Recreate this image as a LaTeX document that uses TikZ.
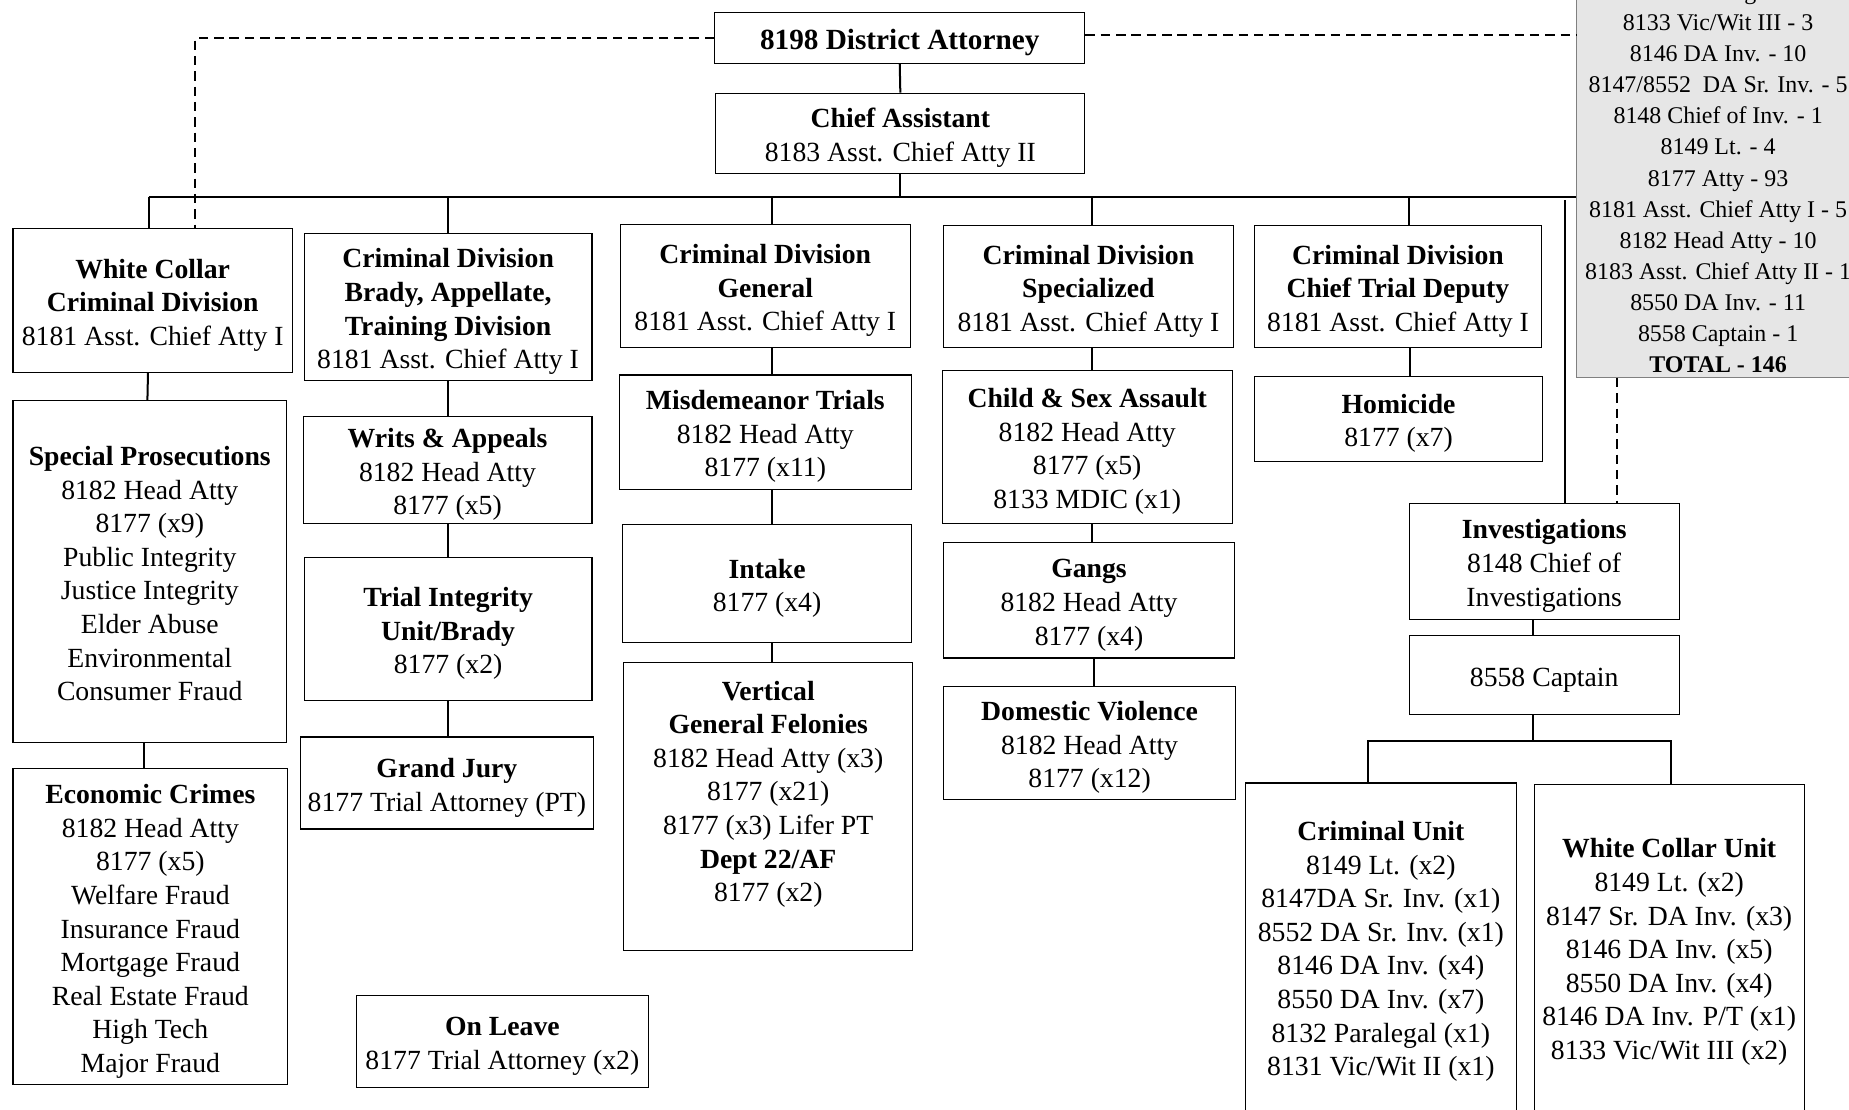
\documentclass[tikz,border=0pt]{standalone}
\usepackage{fontspec}
\setmainfont{Liberation Serif}
\newcommand\fs{\fontsize{23.5}{28.5}\selectfont}
\newcommand\fsda{\fontsize{24.8}{29}\selectfont}
\newcommand\fstot{\fontsize{20.3}{26.4}\selectfont}
\definecolor{totfill}{RGB}{230,230,230}
\definecolor{totdraw}{RGB}{128,128,128}
\newcommand\orgbox[6]{\node[box, minimum width={(#4-#2)*1pt}, minimum height={(#5-#3)*1pt}] (#1) at ({(#2+#4)/2},{(#3+#5)/2}) {\rule{0pt}{25pt}#6\rule[-6pt]{0pt}{6pt}};}
\tikzset{
  box/.style={draw=black, line width=0.9pt, align=center, inner sep=0pt, font=\fs},
  totbox/.style={draw=totdraw, fill=totfill, line width=0.9pt, align=center, inner sep=0pt, font=\fstot},
  conn/.style={line width=1.7pt},
  busline/.style={line width=2.4pt},
  dashline/.style={line width=2pt, dash pattern=on 8pt off 5pt},
}
\begin{document}
\begin{tikzpicture}[x=1pt,y=-1pt]
\useasboundingbox (0,0) rectangle (1568,941);
\clip (0,0) rectangle (1568,941);

% totals box
\node[totbox, minimum width=240pt, minimum height=338.4pt] (tot) at (1457,150.8)
  {8132 Paralegal - 1\\8133 Vic/Wit III - 3\\8146 DA Inv. - 10\\8147/8552~~DA Sr. Inv. - 5\\8148 Chief of Inv. - 1\\8149 Lt. - 4\\8177 Atty - 93\\8181 Asst. Chief Atty I - 5\\8182 Head Atty - 10\\8183 Asst. Chief Atty II - 1\\8550 DA Inv. - 11\\8558 Captain - 1\\\textbf{TOTAL - 146}};

\orgbox{da}{606}{11}{920}{54}{\fsda\textbf{8198 District Attorney}}
\orgbox{chief}{607}{79}{920}{147}{\textbf{Chief Assistant}\\8183 Asst. Chief Atty II}

\orgbox{wc}{11}{194}{248}{316}{\textbf{White Collar}\\\textbf{Criminal Division}\\8181 Asst. Chief Atty I}
\orgbox{brady}{258}{198}{502}{323}{\textbf{Criminal Division}\\\textbf{Brady, Appellate,}\\\textbf{Training Division}\\8181 Asst. Chief Atty I}
\orgbox{gen}{526}{190}{772}{295}{\textbf{Criminal Division}\\\textbf{General}\\8181 Asst. Chief Atty I}
\orgbox{spec}{800}{191}{1046}{295}{\textbf{Criminal Division}\\\textbf{Specialized}\\8181 Asst. Chief Atty I}
\orgbox{ctd}{1064}{191}{1307}{295}{\textbf{Criminal Division}\\\textbf{Chief Trial Deputy}\\8181 Asst. Chief Atty I}

\orgbox{sp}{11}{340}{243}{630}{\textbf{Special Prosecutions}\\8182 Head Atty\\8177 (x9)\\Public Integrity\\Justice Integrity\\Elder Abuse\\Environmental\\Consumer Fraud}
\orgbox{ec}{11}{652}{244}{920}{\textbf{Economic Crimes}\\8182 Head Atty\\8177 (x5)\\Welfare Fraud\\Insurance Fraud\\Mortgage Fraud\\Real Estate Fraud\\High Tech\\Major Fraud}

\orgbox{wa}{257}{353}{502}{444}{\textbf{Writs \& Appeals}\\8182 Head Atty\\8177 (x5)}
\orgbox{tiu}{258}{473}{502}{594}{\textbf{Trial Integrity}\\\textbf{Unit/Brady}\\8177 (x2)}
\orgbox{gj}{255}{625}{503}{703}{\textbf{Grand Jury}\\8177 Trial Attorney (PT)}
\orgbox{ol}{302}{844}{550}{922}{\textbf{On Leave}\\8177 Trial Attorney (x2)}

\orgbox{mt}{525}{318}{773}{415}{\textbf{Misdemeanor Trials}\\8182 Head Atty\\8177 (x11)}
\orgbox{intake}{528}{445}{773}{545}{\textbf{Intake}\\8177 (x4)}
\orgbox{vgf}{529}{562}{774}{806}{\textbf{Vertical}\\\textbf{General Felonies}\\8182 Head Atty (x3)\\8177 (x21)\\8177 (x3) Lifer PT\\\textbf{Dept 22/AF}\\8177 (x2)\\\mbox{}}

\orgbox{csa}{799}{314}{1045}{444}{\textbf{Child \& Sex Assault}\\8182 Head Atty\\8177 (x5)\\8133 MDIC (x1)}
\orgbox{gangs}{800}{460}{1047}{558}{\textbf{Gangs}\\8182 Head Atty\\8177 (x4)}
\orgbox{dv}{800}{582}{1048}{678}{\textbf{Domestic Violence}\\8182 Head Atty\\8177 (x12)}

\orgbox{hom}{1064}{319}{1308}{391}{\textbf{Homicide}\\8177 (x7)}

\orgbox{inv}{1195}{427}{1424}{525}{\textbf{Investigations}\\8148 Chief of\\Investigations}
\orgbox{cap}{1195}{539}{1424}{606}{8558 Captain}
\orgbox{cu}{1056}{664}{1286}{942}{\textbf{Criminal Unit}\\8149 Lt. (x2)\\8147DA Sr. Inv. (x1)\\8552 DA Sr. Inv. (x1)\\8146 DA Inv. (x4)\\8550 DA Inv. (x7)\\8132 Paralegal (x1)\\8131 Vic/Wit II (x1)}
\orgbox{wcu}{1301}{665}{1530}{942}{\textbf{White Collar Unit}\\8149 Lt. (x2)\\8147 Sr. DA Inv. (x3)\\8146 DA Inv. (x5)\\8550 DA Inv. (x4)\\8146 DA Inv. P/T (x1)\\8133 Vic/Wit III (x2)}

% bus coordinates
\coordinate (busy) at (0,167);
\coordinate (subbus) at (0,628);

% top connectors
\draw[conn] (da.south) -- (chief.north);
\draw[conn] (chief.south) -- (chief.south |- busy);
\draw[busline] ([xshift=-3.5pt]wc.north |- busy) -- (tot.west |- busy);
\draw[conn] ([xshift=-3.5pt]wc.north) -- ([xshift=-3.5pt]wc.north |- busy);
\draw[conn] (brady.north) -- (brady.north |- busy);
\draw[conn] ([xshift=6pt]gen.north) -- ([xshift=6pt]gen.north |- busy);
\draw[conn] ([xshift=3pt]spec.north) -- ([xshift=3pt]spec.north |- busy);
\draw[conn] ([xshift=9.5pt]ctd.north) -- ([xshift=9.5pt]ctd.north |- busy);
\draw[conn] ([xshift=17.5pt]inv.north) -- ([xshift=17.5pt,yshift=-3pt]inv.north |- busy);

% dashed links
\draw[dashline] (da.west) -| ([xshift=36pt]wc.north);
\draw[dashline] ([yshift=3pt]da.east) -- ([yshift=3pt]da.east -| tot.west);
\draw[dashline] ([xshift=-86pt]tot.south) -- ([xshift=-86pt]tot.south |- inv.north);

% column 1
\draw[conn] ([xshift=-4pt]wc.south) -- ([xshift=-2pt]sp.north);
\draw[conn] ([xshift=-5pt]ec.north) -- ([xshift=-5pt]ec.north |- sp.south);
% column 2
\draw[conn] (wa.north -| brady.south) -- (brady.south);
\draw[conn] (tiu.north -| wa.south) -- (wa.south);
\draw[conn] (gj.north -| tiu.south) -- (tiu.south);
% column 3
\draw[conn] ([xshift=6pt]gen.south) -- ([xshift=6pt]gen.south |- mt.north);
\draw[conn] ([xshift=4.5pt]intake.north |- mt.south) -- ([xshift=4.5pt]intake.north);
\draw[conn] ([xshift=3.5pt]vgf.north |- intake.south) -- ([xshift=3.5pt]vgf.north);
% column 4
\draw[conn] ([xshift=3pt]spec.south) -- ([xshift=3pt]spec.south |- csa.north);
\draw[conn] ([xshift=2.5pt]gangs.north |- csa.south) -- ([xshift=2.5pt]gangs.north);
\draw[conn] ([xshift=4pt]dv.north |- gangs.south) -- ([xshift=4pt]dv.north);
% column 5
\draw[conn] ([xshift=10pt]hom.north |- ctd.south) -- ([xshift=10pt]hom.north);
% investigations
\draw[conn] ([xshift=-9.5pt]cap.north |- inv.south) -- ([xshift=-9.5pt]cap.north);
\draw[conn] ([xshift=-9.5pt]cap.south) -- ([xshift=-9.5pt]cap.south |- subbus);
\draw[conn] ([xshift=-11pt]cu.north) |- ([xshift=1.5pt]wcu.north |- subbus) -- ([xshift=1.5pt]wcu.north);
\end{tikzpicture}
\end{document}
